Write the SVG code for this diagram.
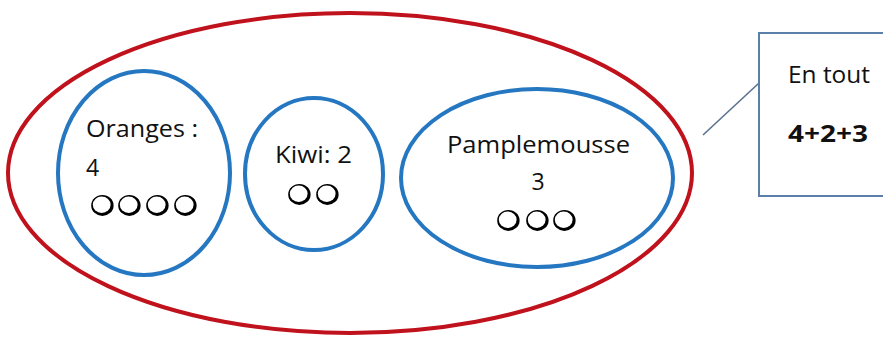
<svg xmlns="http://www.w3.org/2000/svg" xmlns:xlink="http://www.w3.org/1999/xlink" width="883" height="340" viewBox="0 0 883 340">
<style>
.outer{fill:none;stroke:#C0121C;stroke-width:4}
.set{fill:none;stroke:#2477C0;stroke-width:4}
.lbl{font-family:"Open Sans","Liberation Sans",sans-serif;font-size:23px;fill:#111}
.bold{font-weight:bold}
.box{fill:#fff;stroke:#5A7FA8;stroke-width:2}
.conn{stroke:#5A7290;stroke-width:1.6;fill:none}
</style>
<defs>
<g id="ball">
<ellipse cx="0.4" cy="0.4" rx="11.2" ry="10.5" fill="#000"/>
<ellipse cx="-0.3" cy="-0.2" rx="8.9" ry="8.2" fill="#fff"/>
</g>
</defs>
<rect width="883" height="340" fill="#fff"/>
<g id="ensemble">
<ellipse class="outer" cx="350" cy="173" rx="342" ry="160"/>
</g>
<g id="oranges">
<ellipse class="set" cx="144" cy="173" rx="86" ry="102"/>
<text class="lbl" x="86" y="137" textLength="112" lengthAdjust="spacingAndGlyphs">Oranges :</text>
<text class="lbl" x="86" y="176">4</text>
<use xlink:href="#ball" x="102" y="205"/>
<use xlink:href="#ball" x="129" y="205"/>
<use xlink:href="#ball" x="157" y="205"/>
<use xlink:href="#ball" x="185" y="205"/>
</g>
<g id="kiwi">
<ellipse class="set" cx="314" cy="174" rx="69" ry="76"/>
<text class="lbl" x="275" y="163" textLength="77" lengthAdjust="spacingAndGlyphs">Kiwi: 2</text>
<use xlink:href="#ball" x="299" y="194"/>
<use xlink:href="#ball" x="327" y="194"/>
</g>
<g id="pamplemousse">
<ellipse class="set" cx="537" cy="178" rx="136" ry="89"/>
<text class="lbl" x="447" y="153" textLength="183" lengthAdjust="spacingAndGlyphs">Pamplemousse</text>
<text class="lbl" x="538" y="190" text-anchor="middle">3</text>
<use xlink:href="#ball" x="508" y="220"/>
<use xlink:href="#ball" x="537" y="220"/>
<use xlink:href="#ball" x="564" y="220"/>
</g>
<g id="connectors">
<line class="conn" x1="703" y1="135" x2="759" y2="83"/>
</g>
<g id="total">
<rect class="box" x="759" y="33" width="140" height="163"/>
<text class="lbl" x="788" y="83" textLength="82" lengthAdjust="spacingAndGlyphs">En tout</text>
<text class="lbl bold" x="788" y="142" textLength="80" lengthAdjust="spacingAndGlyphs">4+2+3</text>
</g>
</svg>
